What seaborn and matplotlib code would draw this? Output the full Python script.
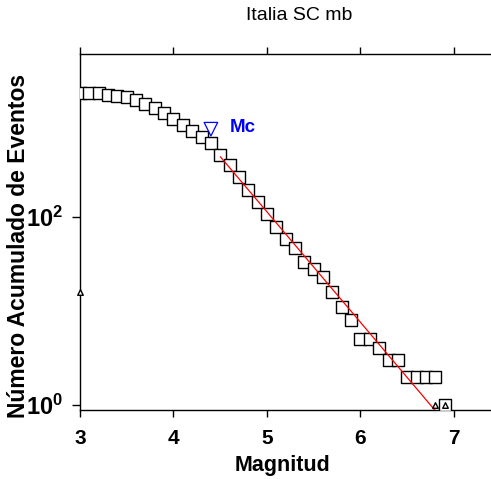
import matplotlib
matplotlib.use('Agg')
import matplotlib.pyplot as plt
import seaborn as sns
from matplotlib.ticker import FixedLocator, FixedFormatter, NullLocator

# ---- data ----
mag = [3.0, 3.1, 3.2, 3.3, 3.4, 3.5, 3.6, 3.7, 3.8, 3.9,
       4.0, 4.1, 4.2, 4.3, 4.4, 4.5, 4.6, 4.7, 4.8, 4.9,
       5.0, 5.1, 5.2, 5.3, 5.4, 5.5, 5.6, 5.7, 5.8, 5.9,
       6.0, 6.1, 6.2, 6.3, 6.4, 6.5, 6.6, 6.7, 6.8, 6.9]
cum = [2050, 2045, 2040, 1975, 1905, 1860, 1755, 1555, 1420, 1270,
       1090, 950, 808, 710, 600, 450, 355, 263, 192, 142,
       106, 78, 58, 46, 33, 28, 23, 16, 11, 8,
       5, 5, 4, 3, 3, 2, 2, 2, 2, 1]
tri_mag = [3.0, 6.8, 6.9]
tri_n = [16, 1, 1]
mc_mag = [4.4]
mc_n = [850]
fit_mag = [4.5, 6.8]
fit_n = [434, 0.87]
xticks = [3, 4, 5, 6, 7]
xtick_labels = ['3', '4', '5', '6', '7']
yticks = [1, 100]
ytick_labels = [r'$\mathbf{10^{0}}$', r'$\mathbf{10^{2}}$']
title = 'Italia SC mb'
xlabel = 'Magnitud'
ylabel = 'Número Acumulado de Eventos'

sns.set_theme(style='ticks')
plt.rcParams['font.family'] = ['Liberation Sans', 'DejaVu Sans']
plt.rcParams['mathtext.fontset'] = 'custom'
plt.rcParams['mathtext.rm'] = 'Liberation Sans'
plt.rcParams['mathtext.bf'] = 'Liberation Sans:bold'
plt.rcParams['mathtext.it'] = 'Liberation Sans:italic'
for k in ['text.color', 'axes.labelcolor', 'xtick.color', 'ytick.color',
          'xtick.labelcolor', 'ytick.labelcolor', 'axes.edgecolor']:
    plt.rcParams[k] = 'black'

W, H = 491, 479
fig = plt.figure(figsize=(W / 100, H / 100), dpi=100)
ax = fig.add_axes([80 / W, 69 / H, 438 / W, 356 / H])

sns.scatterplot(x=mag, y=cum, marker='s', s=72, color='white',
                edgecolor='black', linewidth=1.0, ax=ax, zorder=3)
sns.scatterplot(x=tri_mag, y=tri_n, marker='^', s=16, color='white',
                edgecolor='black', linewidth=1.0, ax=ax, zorder=5, clip_on=False)
sns.lineplot(x=fit_mag, y=fit_n, color='red', linewidth=0.9, ax=ax, zorder=4)
sns.scatterplot(x=mc_mag, y=mc_n, marker='v', s=95, color='none',
                edgecolor='blue', linewidth=0.9, ax=ax, zorder=6)
ax.annotate('Mc', xy=(mc_mag[0], mc_n[0]), xytext=(13.5, 1.5),
            textcoords='offset points', ha='left', va='center',
            color='blue', fontsize=13.5, fontweight='bold')

ax.set_yscale('log')
ax.set_xlim(3, 3 + 438 / 93.5)
ax.set_ylim(0.885, 5346)

ax.xaxis.set_major_locator(FixedLocator(xticks))
ax.xaxis.set_major_formatter(FixedFormatter(xtick_labels))
ax.xaxis.set_minor_locator(NullLocator())
ax.yaxis.set_major_locator(FixedLocator(yticks))
ax.yaxis.set_major_formatter(FixedFormatter(ytick_labels))
ax.yaxis.set_minor_locator(NullLocator())

for s in ['left', 'bottom', 'top']:
    ax.spines[s].set_visible(True)
    ax.spines[s].set_linewidth(1.0)
    ax.spines[s].set_color('black')
ax.spines['right'].set_visible(False)

ax.tick_params(axis='x', which='major', direction='out', bottom=True, top=True,
               labelbottom=True, labeltop=False, length=5, width=1.0,
               color='black', pad=9, labelsize=15)
ax.tick_params(axis='y', which='major', direction='out', left=True, right=False,
               length=6, width=1.0, color='black', pad=6, labelsize=17)
for lbl in ax.get_xticklabels():
    lbl.set_fontweight('bold')

ax.set_xlabel(xlabel, fontsize=15.5, fontweight='bold')
ax.set_ylabel(ylabel, fontsize=16.5, fontweight='bold')
ax.xaxis.set_label_coords((283 - 80) / 438, -(465 - 410) / 356)
ax.xaxis.label.set_verticalalignment('center')
ax.yaxis.set_label_coords((18 - 80) / 438, (410 - 246) / 356)
ax.yaxis.label.set_verticalalignment('center')

fig.text(299 / W, 1 - 15 / H, title, ha='center', va='center', fontsize=14)

ax.set_facecolor('white')
fig.patch.set_facecolor('white')
fig.savefig('out.png', dpi=100)
